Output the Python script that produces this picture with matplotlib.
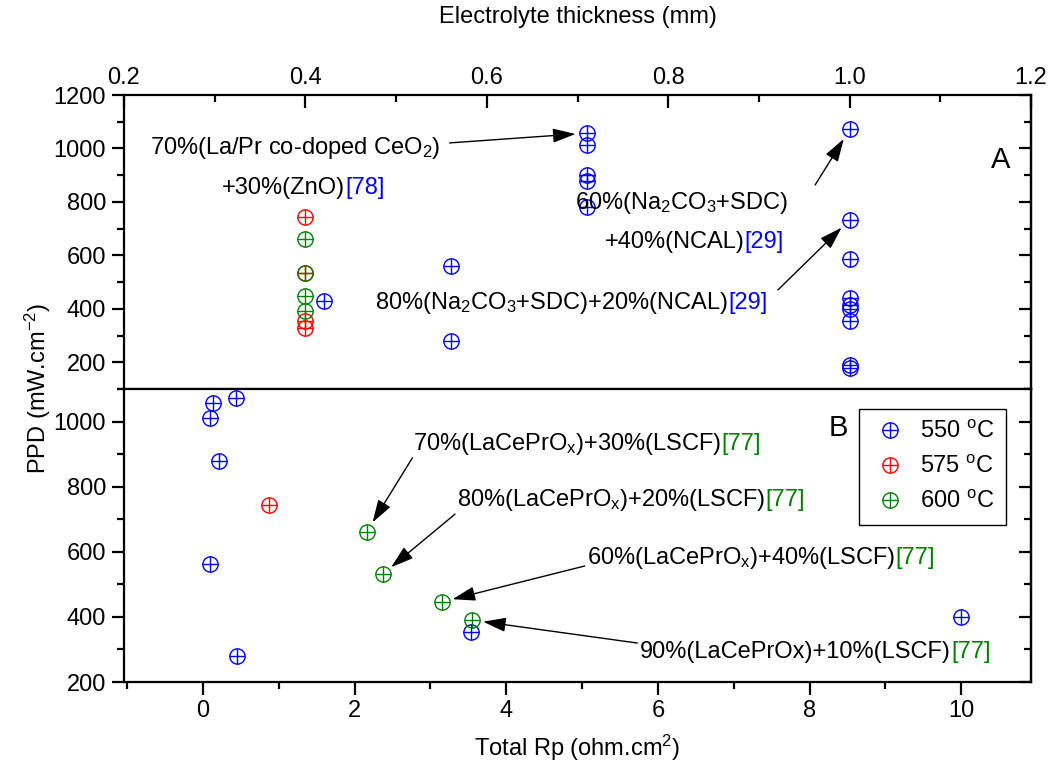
import matplotlib
matplotlib.use("Agg")
import matplotlib.pyplot as plt
from matplotlib.lines import Line2D
from matplotlib.legend_handler import HandlerTuple
from matplotlib.offsetbox import TextArea, HPacker, AnnotationBbox
from matplotlib.ticker import MultipleLocator

plt.rcParams['font.family'] = ['Liberation Sans', 'DejaVu Sans']
plt.rcParams['mathtext.default'] = 'regular'

# ---- panel A: PPD vs electrolyte thickness (mm)
thick_550 = [0.42, 0.56, 0.56, 0.71, 0.71, 0.71, 0.71, 0.71,
             1.0, 1.0, 1.0, 1.0, 1.0, 1.0, 1.0, 1.0, 1.0]
ppd_a_550 = [430, 562, 280, 1057, 1012, 900, 880, 780,
             1071, 733, 588, 440, 415, 400, 355, 188, 180]
thick_575 = [0.4, 0.4, 0.4, 0.4]
ppd_a_575 = [745, 533, 355, 330]
thick_600 = [0.4, 0.4, 0.4, 0.4]
ppd_a_600 = [660, 533, 448, 390]

# ---- panel B: PPD vs total Rp (ohm.cm2)
rp_550 = [0.13, 0.44, 0.10, 0.21, 0.09, 0.45, 3.53, 10.0]
ppd_b_550 = [1057, 1071, 1010, 880, 561, 280, 355, 400]
rp_575 = [0.87]
ppd_b_575 = [745]
rp_600 = [2.16, 2.37, 3.15, 3.55]
ppd_b_600 = [661, 531, 446, 390]

temps = ['550 $^{o}$C', '575 $^{o}$C', '600 $^{o}$C']
colors = ['#0000FF', '#FF0000', '#008000']
ref_blue = '#0000FF'
ref_green = '#008000'

FS = 17
MS = 11

fig = plt.figure(figsize=(10.48, 7.73), dpi=100)
ax1 = fig.add_axes([0.1183, 0.4968, 0.8655, 0.3803])
ax2 = fig.add_axes([0.1183, 0.1177, 0.8655, 0.3791])


def oplus(ax, x, y, c):
    ax.plot(x, y, 'o', ms=MS, mfc='none', mec=c, mew=1.0, ls='none')
    ax.plot(x, y, '+', ms=MS, mec=c, mew=1.0, ls='none')


for ax in (ax1, ax2):
    for s in ax.spines.values():
        s.set_linewidth(1.6)

oplus(ax1, thick_550, ppd_a_550, colors[0])
oplus(ax1, thick_575, ppd_a_575, colors[1])
oplus(ax1, thick_600, ppd_a_600, colors[2])

oplus(ax2, rp_550, ppd_b_550, colors[0])
oplus(ax2, rp_575, ppd_b_575, colors[1])
oplus(ax2, rp_600, ppd_b_600, colors[2])

# axis A
ax1.set_xlim(0.2, 1.2)
ax1.set_ylim(100, 1200)
ax1.xaxis.set_major_locator(MultipleLocator(0.2))
ax1.xaxis.set_minor_locator(MultipleLocator(0.1))
ax1.yaxis.set_major_locator(MultipleLocator(200))
ax1.yaxis.set_minor_locator(MultipleLocator(100))
ax1.xaxis.set_major_formatter(plt.FuncFormatter(lambda v, p: f"{v:.1f}"))
ax1.tick_params(axis='x', which='both', top=True, bottom=False, labeltop=True,
                labelbottom=False, direction='in', labelsize=FS)
ax1.tick_params(axis='y', which='both', direction='out', labelsize=FS)
ax1.set_yticks([200, 400, 600, 800, 1000, 1200])
ax1.xaxis.set_label_position('top')
ax1.set_xlabel('Electrolyte thickness (mm)', fontsize=FS, labelpad=32)

# axis B
ax2.set_xlim(-1.04, 10.92)
ax2.set_ylim(200, 1100)
ax2.xaxis.set_major_locator(MultipleLocator(2))
ax2.xaxis.set_minor_locator(MultipleLocator(1))
ax2.yaxis.set_major_locator(MultipleLocator(200))
ax2.yaxis.set_minor_locator(MultipleLocator(100))
ax2.tick_params(axis='both', which='both', direction='out', labelsize=FS)
ax2.set_xlabel('Total Rp (ohm.cm$^{2}$)', fontsize=FS, labelpad=8)

for ax in (ax1, ax2):
    ax.tick_params(which='major', length=9, width=1.6, pad=4)
    ax.tick_params(which='minor', length=5, width=1.6)
    sec = ax.secondary_yaxis('right')
    sec.yaxis.set_major_locator(MultipleLocator(200))
    sec.yaxis.set_minor_locator(MultipleLocator(100))
    sec.tick_params(which='both', direction='in', labelright=False, width=1.6)
    sec.tick_params(which='major', length=9)
    sec.tick_params(which='minor', length=5)
    sec.spines['right'].set_linewidth(1.6)

fig.text(0.036, 0.497, 'PPD (mW.cm$^{-2}$)', rotation=90, ha='center',
         va='center', fontsize=FS)

ax1.text(0.966, 0.779, 'A', transform=ax1.transAxes, fontsize=21,
         ha='center', va='center')
ax2.text(0.787, 0.867, 'B', transform=ax2.transAxes, fontsize=21,
         ha='center', va='center')


def label(ax, parts, pos):
    areas = [TextArea(t, textprops=dict(color=c, fontsize=FS)) for t, c in parts]
    box = HPacker(children=areas, align='baseline', pad=0, sep=0)
    ab = AnnotationBbox(box, pos, xycoords='axes fraction', frameon=False,
                        box_alignment=(0, 0.5), pad=0)
    ax.add_artist(ab)


def arrow(ax, tail, head):
    ax.annotate('', xy=head, xycoords='data', xytext=tail,
                textcoords='axes fraction',
                arrowprops=dict(arrowstyle='-|>,head_length=0.7,head_width=0.22',
                                color='black', lw=1.0,
                                mutation_scale=20, shrinkA=0, shrinkB=8))


label(ax1, [('70%(La/Pr co-doped CeO$_{2}$)', 'black')], (0.029, 0.820))
label(ax1, [('+30%(ZnO)', 'black'), ('[78]', ref_blue)], (0.108, 0.684))
label(ax1, [('60%(Na$_{2}$CO$_{3}$+SDC)', 'black')], (0.497, 0.633))
label(ax1, [('+40%(NCAL)', 'black'), ('[29]', ref_blue)], (0.530, 0.500))
label(ax1, [('80%(Na$_{2}$CO$_{3}$+SDC)+20%(NCAL)', 'black'), ('[29]', ref_blue)],
      (0.277, 0.293))
arrow(ax1, (0.359, 0.837), (0.71, 1057))
arrow(ax1, (0.762, 0.694), (1.0, 1071))
arrow(ax1, (0.721, 0.337), (1.0, 733))

label(ax2, [('70%(LaCePrO$_{x}$)+30%(LSCF)', 'black'), ('[77]', ref_green)], (0.319, 0.812))
label(ax2, [('80%(LaCePrO$_{x}$)+20%(LSCF)', 'black'), ('[77]', ref_green)], (0.367, 0.621))
label(ax2, [('60%(LaCePrO$_{x}$)+40%(LSCF)', 'black'), ('[77]', ref_green)], (0.510, 0.423))
label(ax2, [('90%(LaCePrOx)+10%(LSCF)', 'black'), ('[77]', ref_green)], (0.569, 0.102))
arrow(ax2, (0.318, 0.765), (2.16, 661))
arrow(ax2, (0.365, 0.573), (2.37, 531))
arrow(ax2, (0.508, 0.396), (3.15, 446))
arrow(ax2, (0.566, 0.133), (3.55, 390))

handles = []
for c in colors:
    h1 = Line2D([], [], marker='o', ms=MS, mfc='none', mec=c, mew=1.0, ls='none')
    h2 = Line2D([], [], marker='+', ms=MS, mec=c, mew=1.0, ls='none')
    handles.append((h1, h2))
leg = ax2.legend(handles, temps, handler_map={tuple: HandlerTuple(ndivide=1)},
                 loc='upper right', bbox_to_anchor=(0.972, 0.932), fontsize=FS,
                 fancybox=False, framealpha=1, edgecolor='black',
                 handlelength=1.6, handletextpad=0.45, labelspacing=0.55,
                 borderpad=0.5, borderaxespad=0)
leg.get_frame().set_linewidth(1.0)

fig.savefig('out.png', dpi=100)
